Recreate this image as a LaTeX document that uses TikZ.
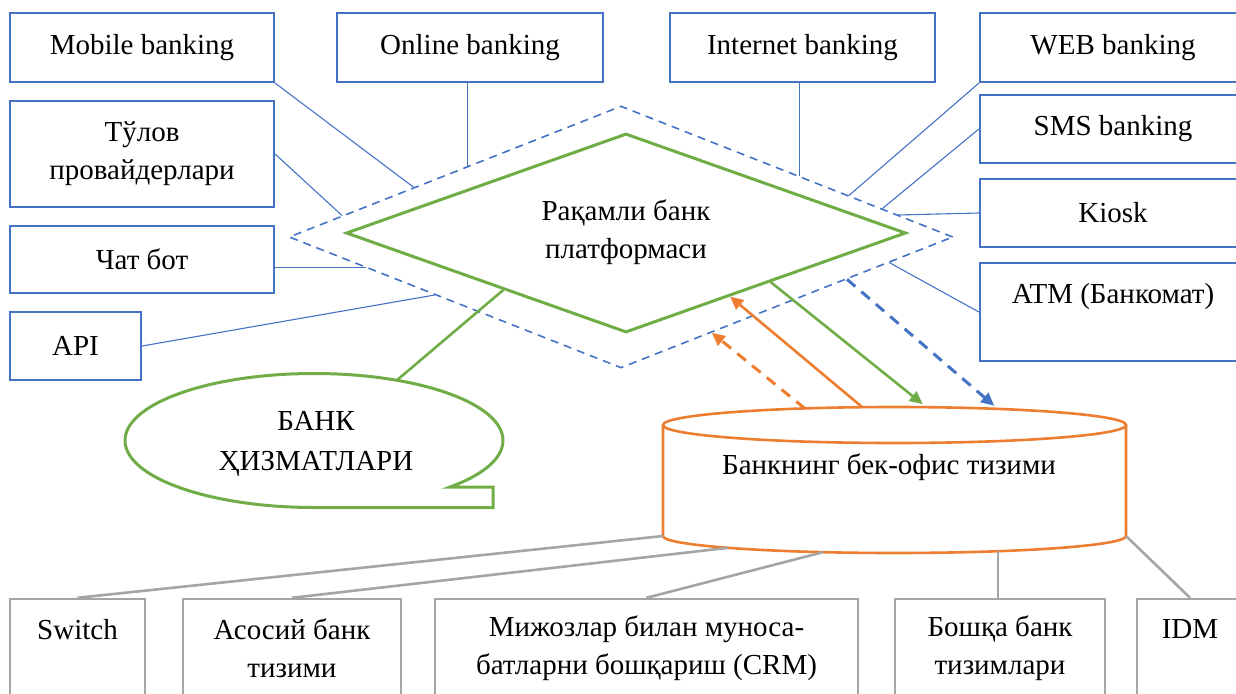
\documentclass[tikz,border=0pt]{standalone}
\usepackage{fontspec}
\setmainfont{Liberation Serif}
\usepackage{tikz}
\usetikzlibrary{calc,shapes.geometric,arrows.meta}
\definecolor{chblue}{HTML}{4472C4}
\definecolor{chgreen}{HTML}{70AD47}
\definecolor{chorange}{HTML}{ED7D31}
\definecolor{chgray}{HTML}{A5A5A5}
\tikzset{every node/.append style={font=\fontsize{29}{38}\selectfont, align=center, inner sep=0pt},
  chan/.style={draw=chblue, line width=2.2pt, minimum height=68pt},
  sysbox/.style={draw=chgray, line width=2.4pt, minimum height=98pt},
  link/.style={chblue, line width=1.1pt},
  feed/.style={chgray, line width=2.6pt},
  flow/.style={line width=2.6pt},
  dflow/.style={line width=3pt, dash pattern=on 11pt off 8pt}}

\begin{document}
\begin{tikzpicture}[x=1pt, y=-1pt, >={Triangle[length=13pt,width=12pt]}]
    \useasboundingbox (0,0) rectangle (1236,693);
    \clip (0,0) rectangle (1236,693);

    % platform
    \node[diamond, draw=chblue, line width=1.6pt, dash pattern=on 8pt off 6pt,
          minimum width=664pt, minimum height=262pt] (outer) at (621,237) {};
    \node[diamond, draw=chgreen, line width=3pt,
          minimum width=560pt, minimum height=199pt] (core) at (626,233) {};
    \node (platform) at (626,232) {Рақамли банк\\платформаси};

    % channels
    \node[chan, minimum width=264pt, minimum height=69pt] (mobile) at (142,47.5) {Mobile banking};
    \node[chan, minimum width=266pt, minimum height=69pt] (online) at (470,47.5) {Online banking};
    \node[chan, minimum width=265pt, minimum height=69pt] (internet) at (802.5,47.5) {Internet banking};
    \node[chan, minimum width=266pt, minimum height=69pt] (web) at (1113,47.5) {WEB banking};
    \node[chan, minimum width=266pt] (sms) at (1113,129) {SMS banking};
    \node[chan, minimum width=266pt] (kiosk) at (1113,213) {Kiosk};
    \node[chan, minimum width=266pt, minimum height=98pt] (atm) at (1113,312) {ATM (Банкомат)\\\vphantom{т}};
    \node[chan, minimum width=264pt, minimum height=106pt] (tulov) at (142,154) {Тўлов\\провайдерлари};
    \node[chan, minimum width=264pt, minimum height=67pt] (chat) at (142,259.5) {Чат бот};
    \node[chan, minimum width=131pt] (api) at (75.5,346) {API};

    \coordinate (mobEnd) at ($(outer.west)!0.377!(outer.north)$);
    \coordinate (onEnd) at ($(outer.west)!0.539!(outer.north)$);
    \coordinate (tulEnd) at ($(outer.west)!0.162!(outer.north)$);
    \coordinate (intEnd) at ($(outer.north)!0.536!(outer.east)$);
    \coordinate (webEnd) at ($(outer.north)!0.685!(outer.east)$);
    \coordinate (smsEnd) at ($(outer.north)!0.785!(outer.east)$);
    \coordinate (kioEnd) at ($(outer.north)!0.833!(outer.east)$);
    \coordinate (atmEnd) at ($(outer.south)!0.806!(outer.east)$);
    \coordinate (chatEnd) at ($(outer.west)!0.234!(outer.south)$);
    \coordinate (apiEnd) at ($(outer.west)!0.44!(outer.south)$);

    \draw[link] (mobile.south east) -- (mobEnd);
    \draw[link] (online.south -| onEnd) -- (onEnd);
    \draw[link] (internet.south -| intEnd) -- (intEnd);
    \draw[link] (web.south west) -- (webEnd);
    \draw[link] (sms.west) -- (smsEnd);
    \draw[link] (kiosk.west) -- (kioEnd);
    \draw[link] (atm.west) -- (atmEnd);
    \draw[link] (tulov.east) -- (tulEnd);
    \draw[link] (chat.east |- chatEnd) -- (chatEnd);
    \draw[link] (api.east) -- (apiEnd);

    % services bubble
    \coordinate (bubble) at (314,440.5);
    \draw[chgreen, line width=2.6pt] ($(core.west)!0.564!(core.south)$) -- ($(bubble)+(-64:189 and 67)$);
    \draw[chgreen, line width=3pt, fill=white] ($(bubble)+(44:189 and 67)$)
        arc[start angle=44, end angle=-270, x radius=189, y radius=67] -- (493,507.5) -- (493,487) -- cycle;
    \node[font=\fontsize{29}{40}\selectfont] (services) at (316,444) {БАНК\\ҲИЗМАТЛАРИ};

    % back office
    \coordinate (dbtop) at (894.5,425);
    \coordinate (dbbase) at (894.5,536);
    \draw[chorange, line width=2.6pt, fill=white] (663,425) -- (663,536)
        arc[start angle=180, end angle=0, x radius=231.5, y radius=17] -- (1126,425);
    \draw[chorange, line width=2.6pt] (dbtop) ellipse [x radius=231.5, y radius=18];
    \node (backoffice) at (889,467) {Банкнинг бек-офис тизими};

    \draw[->, flow, chgreen] ($(core.south)!0.514!(core.east)$) -- ($(dbtop)+(-83:231.5 and 18)+(0,-3)$);
    \draw[->, dflow, chblue] ($(outer.south)!0.679!(outer.east)$) -- ($(dbtop)+(-64.5:231.5 and 18)+(0,-3)$);
    \draw[->, flow, chorange] ($(dbtop)+(-98:231.5 and 18)$) -- ($(core.south)!0.37!(core.east)$);
    \draw[->, dflow, chorange] ($(dbtop)+(-112.8:231.5 and 18)$) -- ($(outer.south)!0.273!(outer.east)$);

    % systems
    \node[sysbox, minimum width=135pt] (switch) at (77.5,648) {Switch\\\vphantom{т}};
    \node[sysbox, minimum width=218pt] (asosiy) at (292,648) {Асосий банк\\тизими};
    \node[sysbox, minimum width=423pt] (crm) at (646.5,648) {Мижозлар билан муноса-\\батларни бошқариш (CRM)};
    \node[sysbox, minimum width=210pt] (other) at (1000,648) {Бошқа банк\\тизимлари};
    \node[sysbox, minimum width=106pt] (idm) at (1190,648) {IDM\\\vphantom{т}};

    \coordinate (otherTop) at ($(dbbase)+(63.4:231.5 and 17)$);
    \draw[feed] (switch.north) -- ($(dbbase)+(180:231.5 and 17)$);
    \draw[feed] (asosiy.north) -- ($(dbbase)+(136:231.5 and 17)$);
    \draw[feed] (crm.north) -- ($(dbbase)+(108:231.5 and 17)$);
    \draw[feed] (otherTop) -- (otherTop |- other.north);
    \draw[feed] (idm.north) -- ($(dbbase)+(0:231.5 and 17)$);
\end{tikzpicture}
\end{document}
